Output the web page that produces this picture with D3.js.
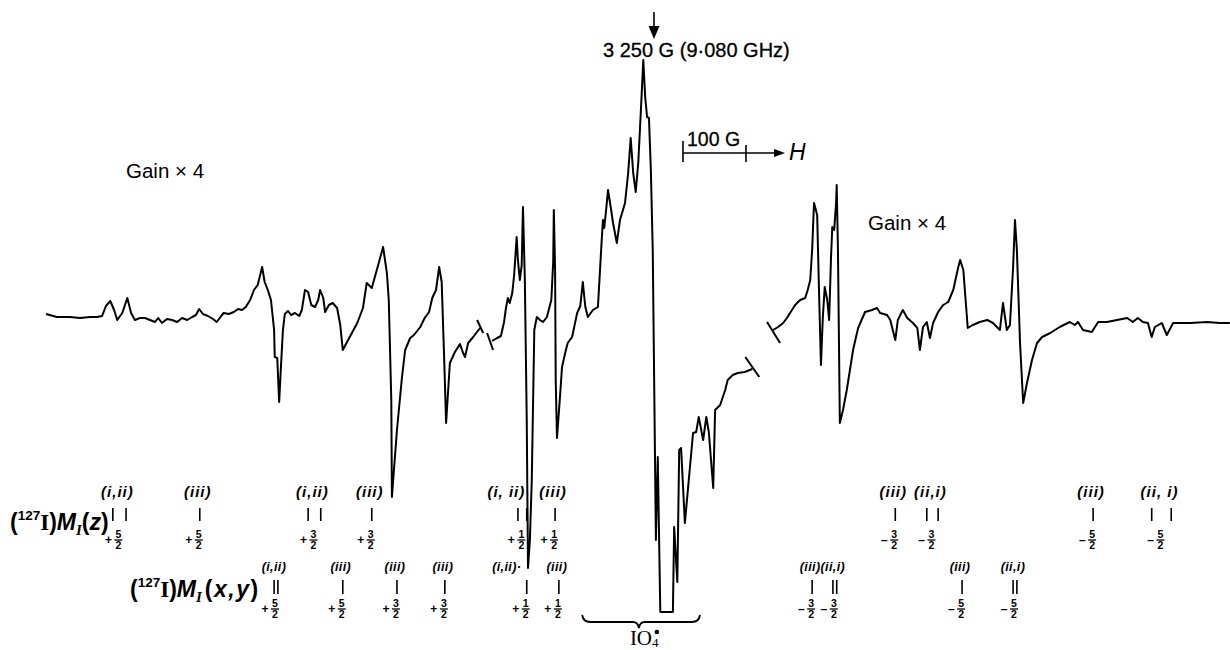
<!DOCTYPE html>
<html><head><meta charset="utf-8">
<script src="https://cdn.jsdelivr.net/npm/d3@7"></script>
<style>body{margin:0;background:#fff}svg{display:block}</style>
</head><body>
<svg id="chart" width="1230" height="650"></svg>
<script>
// ---- Spectrum data: magnetic field (G) and signal (arbitrary units) ----
const leftField = [2285,2302,2323,2339,2355,2366,2374,2380,2387,2393,2398,2406,2414,2420,2426,2434,2442,2450,2458,2463,2469,2477,2485,2493,2501,2509,2517,2523,2528,2534,2542,2550,2556,2563,2567,2575,2583,2590,2596,2602,2609,2615,2621,2628,2632,2637,2642,2647,2648,2652,2655,2658,2661,2664,2669,2674,2680,2687,2691,2696,2701,2706,2712,2717,2720,2725,2728,2734,2740,2747,2752,2756,2767,2779,2788,2794,2802,2810,2820,2826,2829,2833,2834,2836,2842,2850,2855,2863,2869,2879,2886,2893,2898,2904,2909,2913,2917,2920,2926,2934,2942,2947,2950,2955,2963,2969,2974];
const leftSignal = [6,3,3,2,3,3,4,14,19,10,0,7,22,7,0,2,2,0,-2,2,-3,1,0,-2,2,0,3,5,11,6,4,1,-2,4,7,6,8,11,10,13,20,30,35,53,38,30,20,-10,-37,-38,-82,-45,-10,6,9,5,7,4,10,30,28,15,13,20,30,22,8,15,17,12,-5,-30,-17,-3,12,37,32,50,73,47,20,-80,-177,-160,-110,-57,-30,-18,-15,-7,2,8,22,30,53,38,-40,-103,-43,-32,-24,-33,-37,-23,-17,-12,-8];

const centreField = [2993,3001,3007,3012,3015,3018,3021,3025,3028,3032,3034,3037,3040,3042,3045,3048,3050,3053,3056,3060,3064,3069,3074,3080,3087,3090,3091,3093,3094,3096,3101,3104,3109,3113,3120,3128,3133,3137,3141,3145,3153,3161,3167,3169,3171,3174,3177,3182,3185,3191,3196,3204,3209,3213,3217,3221,3225,3229,3233,3236,3239,3242,3245,3248,3253,3256,3260,3280,3282,3287,3290,3293,3299,3312,3317,3321,3328,3333,3337,3344,3347,3355,3363,3367,3375,3383,3394,3406];
const centreSignal = [-21,-18,-16,-2,12,22,17,27,45,83,60,40,55,113,40,-100,-248,-220,-160,-10,3,0,-2,3,20,58,110,50,-60,-118,-75,-47,-33,-23,-17,7,14,38,13,3,10,13,80,100,92,110,130,110,97,77,100,117,147,182,147,128,157,207,260,223,203,202,150,70,-220,-137,-292,-292,-207,-262,-130,-128,-203,-113,-112,-97,-120,-97,-112,-168,-90,-85,-70,-60,-55,-53,-52,-49];

const rightField = [3439,3447,3455,3461,3466,3474,3482,3490,3494,3498,3501,3504,3509,3512,3515,3518,3521,3525,3528,3531,3533,3536,3539,3540,3542,3545,3550,3556,3561,3566,3574,3585,3596,3604,3609,3620,3625,3633,3637,3645,3652,3661,3668,3672,3677,3683,3688,3693,3701,3709,3717,3725,3733,3736,3741,3748,3756,3767,3779,3788,3799,3804,3810,3815,3820,3823,3826,3831,3836,3842,3850,3858,3866,3879,3894,3910,3918,3923,3931,3945,3955,3969,3985,4001,4010,4018,4026,4034,4040,4045,4056,4064,4074,4101,4128,4148,4164];
const rightSignal = [-10,-7,-3,2,7,15,20,22,30,40,70,117,105,27,-45,3,33,20,0,63,93,90,117,135,70,-103,-90,-70,-50,-30,-8,8,10,12,7,5,0,-20,0,10,2,-3,-8,-30,-7,-2,-18,-3,8,15,18,30,53,60,50,-8,-5,-2,0,-3,-10,17,-10,-5,53,100,70,-23,-83,-63,-40,-23,-17,-13,-7,-2,-5,-2,-10,-12,-2,-2,0,2,-2,2,-2,-3,-17,-7,-3,-15,-3,-3,-2,-3,-3];

// ---- Hyperfine assignment markers ----
const zLabels = ["(i,ii)","(iii)","(i,ii)","(iii)","(i, ii)","(iii)","(iii)","(ii,i)","(iii)","(ii, i)"];
const zLines  = [[2391,2412],[2529],[2701,2721],[2802],[3034,3048],[3093],[3633],[3683,3701],[3947],[4040,4071]];
const zMI     = ["+5/2","+5/2","+3/2","+3/2","+1/2","+1/2","-3/2","-3/2","-5/2","-5/2"];

const xyLabels = ["(i,ii)","(iii)","(iii)","(iii)","(i,ii)·","(iii)","(iii)","(ii,i)","(iii)","(ii,i)"];
const xyLines  = [[2647,2653],[2756],[2842],[2918],[3048],[3099],[3501],[3534,3540],[3739],[3820,3826]];
const xyMI     = ["+5/2","+5/2","+3/2","+3/2","+1/2","+1/2","-3/2","-3/2","-5/2","-5/2"];

// other annotations (field values in G)
const centreFieldG = 3250;
const scaleBarStart = 3296, scaleBarLength = 100, scaleArrowEnd = 3458;
const braceRange = [3136, 3323], braceTip = 3226;

// ---- drawing ----
const svg = d3.select("#chart");
const x = d3.scaleLinear().domain([3250, 3350]).range([654, 717]);
const y = d3.scaleLinear().domain([0, 100]).range([320, 220]);
const SANS = "'Liberation Sans', Arial, sans-serif";
const SERIF = "'Liberation Serif', 'Times New Roman', serif";

const line = d3.line().x(d => x(d[0])).y(d => y(d[1]));
const segments = [
  d3.zip(leftField, leftSignal),
  d3.zip(centreField, centreSignal),
  d3.zip(rightField, rightSignal)
];
svg.append("g").selectAll("path").data(segments).join("path")
  .attr("d", line).attr("fill", "none").attr("stroke", "#000")
  .attr("stroke-width", 2).attr("stroke-linejoin", "round");

// gain-change break marks at segment ends
const breaks = [
  {p: segments[0][segments[0].length - 1], dx: 0, dy: -1.5, hx: 3, hy: 6.5},
  {p: segments[1][0], dx: -2, dy: 0.5, hx: 3, hy: 8.5},
  {p: segments[1][segments[1].length - 1], dx: 0, dy: -2, hx: 7, hy: 10},
  {p: segments[2][0], dx: 0.5, dy: 2.5, hx: 6.5, hy: 10.5}
];
svg.append("g").selectAll("line").data(breaks).join("line")
  .attr("x1", d => x(d.p[0]) + d.dx - d.hx).attr("y1", d => y(d.p[1]) + d.dy - d.hy)
  .attr("x2", d => x(d.p[0]) + d.dx + d.hx).attr("y2", d => y(d.p[1]) + d.dy + d.hy)
  .attr("stroke", "#000").attr("stroke-width", 2);

// top arrow + label
const ax = x(centreFieldG);
svg.append("line").attr("x1", ax).attr("x2", ax).attr("y1", 12).attr("y2", 30)
  .attr("stroke", "#000").attr("stroke-width", 1.6);
svg.append("path").attr("d", `M${ax-5.5},26 L${ax+5.5},26 L${ax},39 Z`).attr("fill", "#000");
svg.append("text").attr("x", ax - 51).attr("y", 57).attr("font-family", SANS)
  .attr("font-size", 20).attr("stroke", "#000").attr("stroke-width", 0.3).text("3 250 G (9·080 GHz)");

// scale bar
const sb0 = x(scaleBarStart), sb1 = x(scaleBarStart + scaleBarLength), sbA = x(scaleArrowEnd);
const sbY = 153;
const sg = svg.append("g").attr("stroke", "#000").attr("stroke-width", 1.6);
sg.append("line").attr("x1", sb0).attr("x2", sbA - 8).attr("y1", sbY).attr("y2", sbY);
sg.append("line").attr("x1", sb0).attr("x2", sb0).attr("y1", 141).attr("y2", 162);
sg.append("line").attr("x1", sb1).attr("x2", sb1).attr("y1", 145).attr("y2", 162);
svg.append("path").attr("d", `M${sbA-11},${sbY-4} L${sbA},${sbY} L${sbA-11},${sbY+4} Z`).attr("fill", "#000");
svg.append("text").attr("x", sb0 + 4).attr("y", 146).attr("font-family", SANS)
  .attr("font-size", 19.5).attr("stroke", "#000").attr("stroke-width", 0.3).text("100 G");
svg.append("text").attr("x", sbA + 4).attr("y", 160).attr("font-family", SANS)
  .attr("font-size", 23).attr("font-style", "italic").text("H");

// gain labels
svg.append("text").attr("x", 126).attr("y", 178).attr("font-family", SANS).attr("font-size", 20.5).text("Gain × 4");
svg.append("text").attr("x", 868).attr("y", 230).attr("font-family", SANS).attr("font-size", 20.5).text("Gain × 4");

// IO4 brace
const b0 = x(braceRange[0]), b1 = x(braceRange[1]), bt = x(braceTip);
svg.append("path")
  .attr("d", `M${b0},615 Q${b0+1},622 ${b0+8},622 L${bt-6},622 Q${bt-1},622 ${bt},628 Q${bt+1},622 ${bt+6},622 L${b1-8},622 Q${b1-1},622 ${b1},615`)
  .attr("fill", "none").attr("stroke", "#000").attr("stroke-width", 1.8);
const io = svg.append("text").attr("x", bt - 9).attr("y", 645).attr("font-family", SERIF).attr("font-size", 21);
io.append("tspan").text("IO");
io.append("tspan").attr("font-size", 13).attr("dy", 2).text("4");
svg.append("circle").attr("cx", bt + 18).attr("cy", 632).attr("r", 2.3).attr("fill", "#000");

// row labels
function rowLabel(tx, ty, coord, extra) {
  const t = svg.append("text").attr("x", tx).attr("y", ty).attr("font-family", SANS)
    .attr("font-size", 23).attr("font-weight", "bold");
  t.append("tspan").text("(");
  t.append("tspan").attr("font-size", 13.5).attr("dy", -10).text("127");
  t.append("tspan").attr("dy", 10).attr("font-family", SERIF).text("I");
  t.append("tspan").text(")");
  t.append("tspan").attr("font-style", "italic").text("M");
  t.append("tspan").attr("font-style", "italic").attr("font-family", SERIF).attr("font-size", 15).attr("dy", 5).text("I");
  const r = t.append("tspan").attr("dy", -5).attr("dx", extra).attr("letter-spacing", extra / 2);
  r.append("tspan").text("(");
  r.append("tspan").attr("font-style", "italic").text(coord);
  r.append("tspan").text(")");
}
rowLabel(10, 530, "z", 0);
rowLabel(130, 597, "x,y", 3);

// marker groups
function markerRow(labels, lines, mi, cfg) {
  const g = svg.append("g");
  labels.forEach((lab, i) => {
    const xs = lines[i].map(x);
    const cx = d3.mean(xs);
    g.append("text").attr("x", cx - 2 + (cfg.shift[i] || 0)).attr("y", cfg.labY)
      .attr("text-anchor", "middle").attr("font-family", SANS).attr("font-size", cfg.labSize)
      .attr("font-weight", "bold").attr("font-style", "italic").attr("letter-spacing", cfg.ls)
      .text(lab);
    xs.forEach(px => g.append("line").attr("x1", px).attr("x2", px)
      .attr("y1", cfg.t0).attr("y2", cfg.t1).attr("stroke", "#000").attr("stroke-width", 1.6));
    const sign = mi[i][0] === "+" ? "+" : "–";
    const [num, den] = mi[i].slice(1).split("/");
    const fx = cx - 1;
    const ff = g.append("g").attr("font-family", SANS).attr("font-weight", "bold").attr("font-size", 10.5).attr("text-anchor", "middle");
    ff.append("text").attr("x", fx).attr("y", cfg.fy + 8).text(num);
    ff.append("text").attr("x", fx).attr("y", cfg.fy + 19).text(den);
    g.append("line").attr("x1", fx - 4).attr("x2", fx + 4).attr("y1", cfg.fy + 10).attr("y2", cfg.fy + 10)
      .attr("stroke", "#000").attr("stroke-width", 1.3);
    g.append("text").attr("x", fx - 6.5).attr("y", cfg.fy + 14).attr("text-anchor", "end")
      .attr("font-family", SANS).attr("font-weight", "bold").attr("font-size", 12).text(sign);
  });
}
markerRow(zLabels, zLines, zMI, {labY: 497, labSize: 15, ls: 1.0, t0: 508, t1: 521, fy: 530, shift: {4: -14}});
markerRow(xyLabels, xyLines, xyMI, {labY: 571, labSize: 12.5, ls: 0.4, t0: 580, t1: 594, fy: 599, shift: {4: -18}});
</script>
</body></html>
